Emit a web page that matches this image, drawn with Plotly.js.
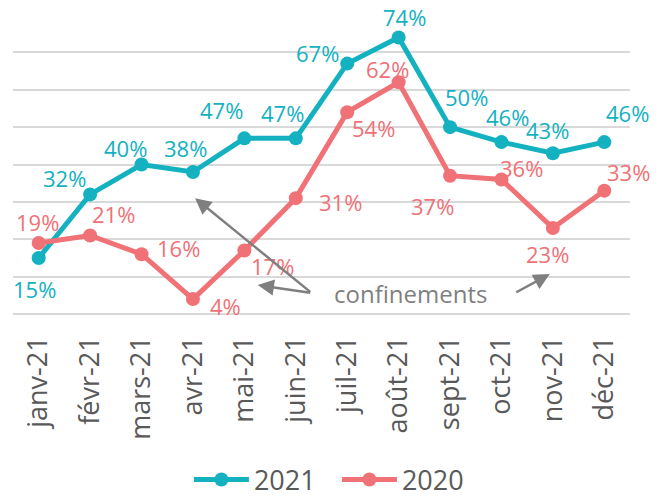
<!DOCTYPE html>
<html>
<head>
<meta charset="utf-8">
<script src="https://cdn.plot.ly/plotly-3.0.1.min.js"></script>
<style>html,body{margin:0;padding:0;background:#fff;}#chart{width:660px;height:498px;}</style>
</head>
<body>
<div id="chart"></div>
<script>
const months = ["janv-21","févr-21","mars-21","avr-21","mai-21","juin-21","juil-21","août-21","sept-21","oct-21","nov-21","déc-21"];
const values2021 = [15,32,40,38,47,47,67,74,50,46,43,46];
const values2020 = [19,21,16,4,17,31,54,62,37,36,23,33];
const seriesNames = ["2021","2020"];
const annotationText = "confinements";

// label offsets (styling only)
const off2021 = [[-4,-31],[-26,16],[-16,17],[-7,24],[-23,28],[-13,25],[-30,11],[6,20],[16,30],[6,25],[-5,23],[23,29]];
const off2020 = [[-1,21],[23,22],[37,6],[33,-7],[28,-16],[45,-4],[26,-16],[-11,13],[-18,-30],[20,11],[-5,-26],[24,19]];

const teal = "#14B1C1";
const red = "#F07176";
const gray = "#7F7F7F";

const traces = [
  {x: months, y: values2021, name: seriesNames[0], type: "scatter", mode: "lines+markers",
   line: {color: teal, width: 5}, marker: {color: teal, size: 14}, cliponaxis: false},
  {x: months, y: values2020, name: seriesNames[1], type: "scatter", mode: "lines+markers",
   line: {color: red, width: 5}, marker: {color: red, size: 14}, cliponaxis: false}
];

const annotations = [];
function addLabels(vals, offs, color) {
  vals.forEach((v, i) => {
    annotations.push({x: months[i], y: v, xref: "x", yref: "y", text: v + "%", showarrow: false,
      xshift: offs[i][0], yshift: offs[i][1],
      font: {family: "Open Sans", size: 22, color: color}});
  });
}
addLabels(values2021, off2021, teal);
addLabels(values2020, off2020, red);

annotations.push({xref: "paper", yref: "paper", x: (410-13)/617, y: (314-293)/299, xanchor: "center", yanchor: "middle",
  text: annotationText, showarrow: false, font: {family: "Open Sans", size: 24, color: gray}});
const arrows = [
  {x: 3.04, y: 31.0, ax: 5.31, ay: 5.6},
  {x: 4.26, y: 7.75, ax: 5.31, ay: 5.6},
  {x: 9.94, y: 10.7, ax: 9.26, ay: 5.6}
];
arrows.forEach(a => annotations.push({x: a.x, y: a.y, ax: a.ax, ay: a.ay, xref: "x", yref: "y", axref: "x", ayref: "y",
  text: "", showarrow: true, arrowhead: 2, arrowsize: 1.3, arrowwidth: 2.5, arrowcolor: gray}));

const layout = {
  width: 660, height: 498,
  margin: {l: 13, r: 30, t: 15, b: 184, autoexpand: false},
  paper_bgcolor: "#fff", plot_bgcolor: "#fff",
  showlegend: true,
  legend: {orientation: "h", x: 0.525, xanchor: "center", yref: "container", y: 18/498, yanchor: "middle",
    font: {family: "Open Sans", size: 27, color: "#595959"}, itemwidth: 55, entrywidth: 78},
  xaxis: {type: "category", range: [-0.5, 11.5], showgrid: false, zeroline: false, showline: false,
    automargin: false, tickangle: -90, ticks: "", ticklabelstandoff: 16,
    tickfont: {family: "Open Sans", size: 27, color: "#595959"}},
  yaxis: {range: [0, 80], dtick: 10, showticklabels: false, showgrid: true, gridcolor: "#D9D9D9", gridwidth: 2,
    automargin: false, zeroline: true, zerolinecolor: "#D9D9D9", zerolinewidth: 2, showline: false, fixedrange: true},
  annotations: annotations
};

Plotly.newPlot("chart", traces, layout, {displayModeBar: false, staticPlot: true});
</script>
</body>
</html>
